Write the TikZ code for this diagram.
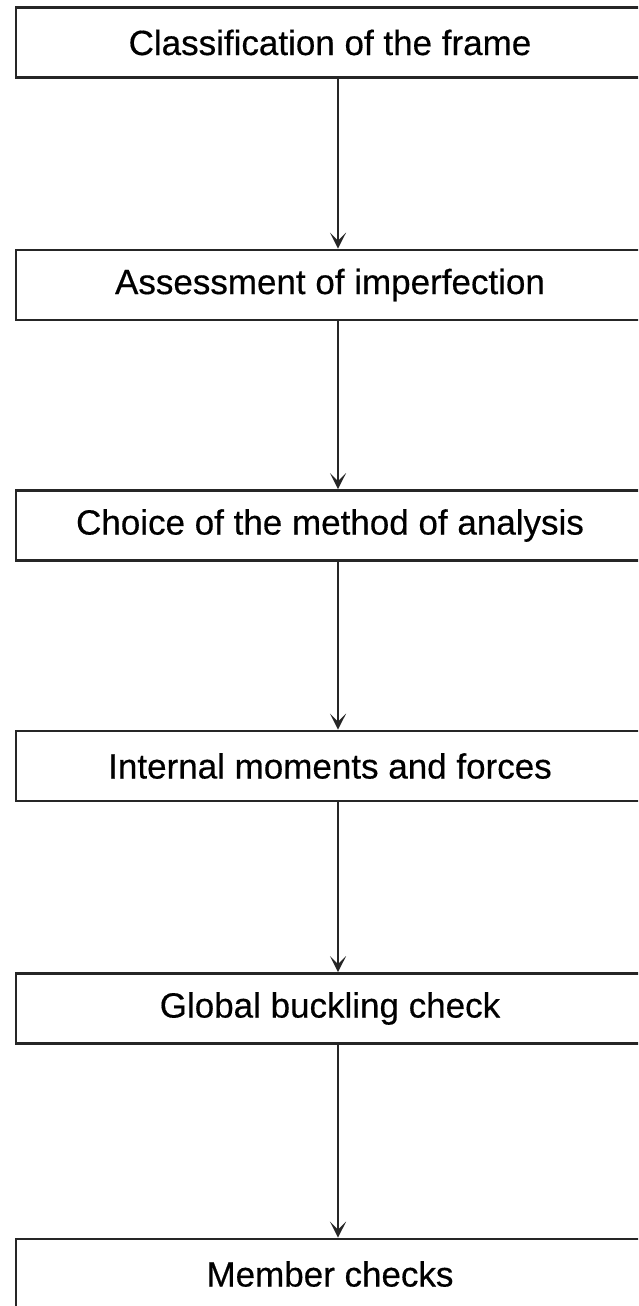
\documentclass[tikz,border=0pt]{standalone}
\usepackage{fontspec}
\setmainfont[FakeBold=0.4]{Liberation Sans}
\usetikzlibrary{arrows.meta,calc}
\tikzset{
  stagebox/.style={draw=black!85, line width=2.6pt, minimum width=628pt, minimum height=70pt,
    inner sep=0pt, font=\fontsize{35}{40}\selectfont},
  flowarrow/.style={draw=black!85, line width=2pt,
    -{Stealth[length=16pt,width=16pt,inset=8pt]}}
}
\begin{document}
\begin{tikzpicture}[x=1pt,y=-1pt]
\useasboundingbox (0,0) rectangle (638,1306);
\clip (0,0) rectangle (638,1306);
\fill[white] (0,0) rectangle (638,1306);
\node[stagebox] (b1) at (330,42.5) {Classification of the frame};
\node[stagebox] (b2) at (330,285) {Assessment of imperfection};
\node[stagebox] (b3) at (330,525.5) {Choice of the method of analysis};
\node[stagebox] (b4) at (330,766) {Internal moments and forces};
\node[stagebox] (b5) at (330,1008.5) {Global buckling check};
\node[stagebox] (b6) at (330,1274) {Member checks};
\foreach \a/\b in {b1/b2,b2/b3,b3/b4,b4/b5,b5/b6}{
  \draw[flowarrow] ($(\a.south)+(8,0)$) -- ($(\b.north)+(8,0)$);
}
\end{tikzpicture}
\end{document}
